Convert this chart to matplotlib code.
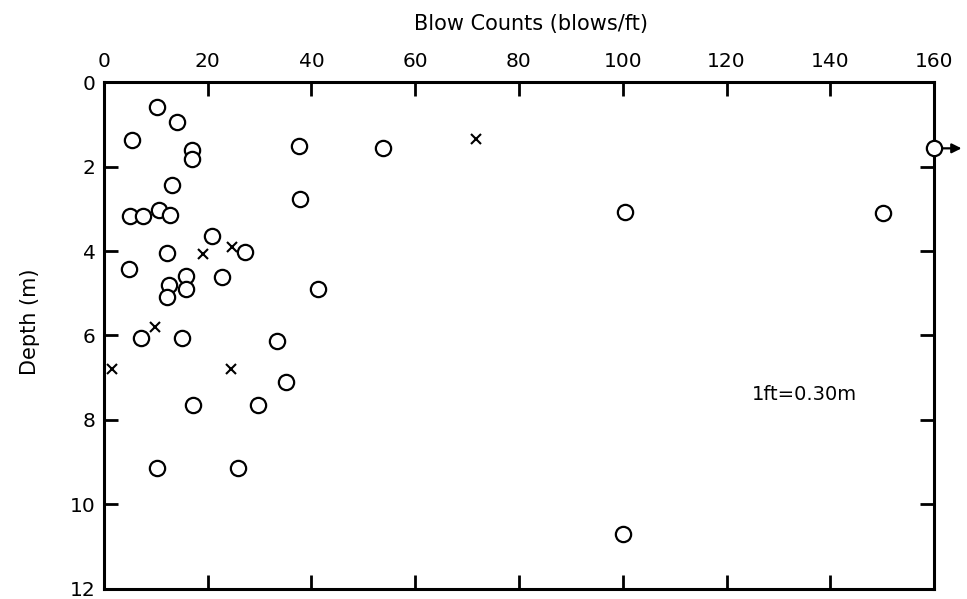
import matplotlib.pyplot as plt

# open circles: blow counts (blows/ft) vs depth (m)
circle_blows = [10.2, 14.1, 5.5, 16.9, 16.9, 37.6, 53.7, 13.2, 37.8, 5.1, 7.6, 10.7,
                12.7, 20.9, 27.2, 12.1, 4.9, 15.8, 22.7, 12.6, 15.8, 41.3, 12.1, 7.1,
                15.0, 33.4, 35.1, 17.1, 29.7, 10.2, 25.9, 100.4, 150.2, 100.0]
circle_depth = [0.60, 0.94, 1.37, 1.61, 1.83, 1.52, 1.57, 2.44, 2.76, 3.18, 3.18, 3.03,
                3.15, 3.65, 4.02, 4.04, 4.42, 4.60, 4.61, 4.81, 4.91, 4.89, 5.09, 6.07,
                6.07, 6.13, 7.10, 7.64, 7.64, 9.14, 9.14, 3.07, 3.11, 10.70]

# x marks
cross_blows = [71.8, 19.1, 24.6, 9.8, 1.6, 24.4]
cross_depth = [1.36, 4.08, 3.90, 5.80, 6.79, 6.79]

# off-scale value, plotted on the right edge with an arrow
off_blows = [160.0]
off_depth = [1.57]

x_ticks = [0, 20, 40, 60, 80, 100, 120, 140, 160]
y_ticks = [0, 2, 4, 6, 8, 10, 12]

plt.rcParams["font.family"] = "DejaVu Sans"

fig = plt.figure(figsize=(9.67, 5.99), dpi=100)
ax = fig.add_axes([0.1075, 0.0167, 0.8584, 0.8464])

ax.plot(circle_blows, circle_depth, "o", ms=11, mfc="white", mec="black", mew=1.6,
        clip_on=False, zorder=3)
ax.plot(cross_blows, cross_depth, "x", ms=7, color="black", mew=1.5,
        clip_on=False, zorder=3)
ax.plot(off_blows, off_depth, "o", ms=11, mfc="white", mec="black", mew=1.6,
        clip_on=False, zorder=4)
ax.annotate("", xy=(off_blows[0] + 5.3, off_depth[0]),
            xytext=(off_blows[0] + 1.4, off_depth[0]),
            arrowprops=dict(arrowstyle="-|>", color="black", lw=1.6,
                            mutation_scale=14, shrinkA=0, shrinkB=0),
            annotation_clip=False)

ax.set_xlim(0, 160)
ax.set_ylim(12, 0)
ax.set_xticks(x_ticks)
ax.set_yticks(y_ticks)
ax.xaxis.tick_top()
ax.tick_params(axis="both", direction="in", length=10, width=2, labelsize=14.5,
               top=True, bottom=True, left=True, right=True,
               labeltop=True, labelbottom=False, labelleft=True, labelright=False)
ax.tick_params(axis="x", pad=8)
ax.tick_params(axis="y", pad=6)
for sp in ax.spines.values():
    sp.set_linewidth(2.2)

fig.text(531 / 967, 1 - 24 / 599, "Blow Counts (blows/ft)", fontsize=15,
         ha="center", va="center")
fig.text(30 / 967, 1 - 322 / 599, "Depth (m)", fontsize=15, rotation=90,
         ha="center", va="center")

ax.text(135, 7.4, "1ft=0.30m", fontsize=14, ha="center", va="center")

fig.savefig("out.png", dpi=100)
